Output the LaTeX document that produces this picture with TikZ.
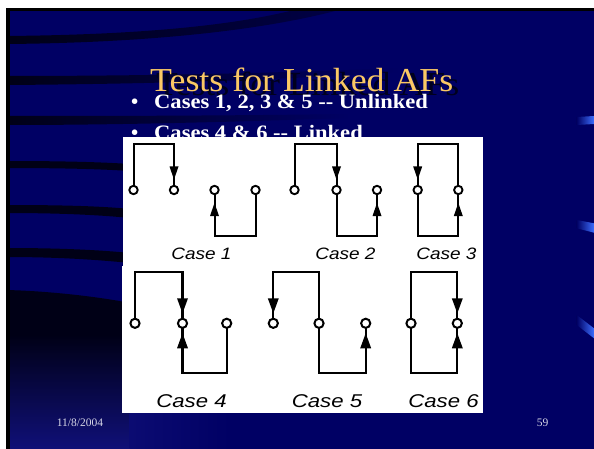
\documentclass[tikz,border=0pt]{standalone}
\usepackage{fontspec}
\usepackage{graphicx}
\usetikzlibrary{calc}
\newfontfamily\tfserif{Liberation Serif}
\newfontfamily\tfsans{Liberation Sans}
\definecolor{navy}{RGB}{0,0,100}
\definecolor{stripe}{RGB}{0,0,22}
\definecolor{deepblue}{RGB}{16,16,120}
\definecolor{barblue}{RGB}{60,110,255}
\definecolor{titlecol}{RGB}{250,200,100}
\definecolor{shadowcol}{RGB}{0,0,30}
\definecolor{footcol}{RGB}{215,215,230}
\newcommand\ArrDn[4]{\fill[black] ($(#1)+(0,-#2)$) -- ($(#1)+(-#4,-#2-#3)$) -- ($(#1)+(#4,-#2-#3)$) -- cycle;}
\newcommand\ArrUp[4]{\fill[black] ($(#1)+(0,#2)$) -- ($(#1)+(-#4,#2+#3)$) -- ($(#1)+(#4,#2+#3)$) -- cycle;}
\begin{document}
\begin{tikzpicture}[x=1pt,y=-1pt,
  af/.style={circle, draw=black, fill=white, line width=1.9pt, minimum size=8.4pt, inner sep=0pt, outer sep=0pt},
  afl/.style={af, line width=2pt, minimum size=9.2pt},
  wire/.style={line width=2pt, draw=black},
  wirel/.style={line width=2.1pt, draw=black},
  caseup/.style={font=\tfsans\itshape\fontsize{16.5}{18}\selectfont, anchor=base, inner sep=0pt},
  caselo/.style={font=\tfsans\itshape\fontsize{18.5}{20}\selectfont, anchor=base, inner sep=0pt},
  bullettext/.style={font=\tfserif\bfseries\fontsize{20.5}{24}\selectfont, text=white, anchor=base west, inner sep=0pt},
  foot/.style={font=\tfserif\fontsize{11.5}{13}\selectfont, text=footcol, anchor=base west, inner sep=0pt}
]
\useasboundingbox (0,0) rectangle (594,449);
% background
\fill[white] (0,0) rectangle (594,449);
\fill[navy] (6,8) rectangle (594,449);
% stripes
\shade[left color=stripe, right color=stripe!40!navy] (6,36) .. controls (120,35) and (220,28) .. (290,11) -- (335,11) .. controls (250,33) and (130,43) .. (6,44) -- cycle;
\shade[left color=stripe, right color=navy] (6,76) .. controls (150,76) and (280,73) .. (400,68) -- (400,72) .. controls (280,80) and (150,84) .. (6,85) -- cycle;
\shade[left color=stripe, right color=navy] (6,116) .. controls (100,116) and (200,116) .. (350,114) -- (350,118) .. controls (200,123) and (100,125) .. (6,125) -- cycle;
\fill[stripe] (6,161) .. controls (60,161) and (100,162) .. (130,164) -- (130,171) .. controls (100,169) and (60,168) .. (6,168) -- cycle;
\fill[stripe] (6,205) .. controls (60,205) and (100,206) .. (130,209) -- (130,218) .. controls (100,215) and (60,213) .. (6,213) -- cycle;
\fill[stripe] (6,248) .. controls (60,248) and (100,250) .. (130,253) -- (130,263) .. controls (100,260) and (60,257) .. (6,257) -- cycle;
\fill[stripe] (6,290) .. controls (50,291) and (100,297) .. (130,303) -- (130,335) -- (6,335) -- cycle;
\shade[top color=stripe, bottom color=deepblue] (6,334.5) rectangle (130,449);
\shade[left color=deepblue!70!navy, right color=navy] (129.5,413) rectangle (230,449);
% blue bars at right edge
\shade[left color=navy, right color=barblue] (576.7,117) -- (594,116) -- (594,124) -- (576.7,125) -- cycle;
\shade[left color=navy, right color=barblue] (576.7,220) -- (594,223.3) -- (594,232.7) -- (576.7,228.3) -- cycle;
\shade[left color=navy, right color=barblue] (576.7,315) -- (594,328.3) -- (594,338.3) -- (576.7,325) -- cycle;
% borders
\fill[black] (6,8) rectangle (594,11);
\fill[black] (6,8) rectangle (10,449);
% title
\node[font=\tfserif\fontsize{33.5}{40}\selectfont, text=shadowcol, anchor=base west, inner sep=0pt] (titleshadow) at (156,95.7) {\scalebox{1.07}[1]{Tests for Linked AFs}};
\node[font=\tfserif\fontsize{33.5}{40}\selectfont, text=titlecol, anchor=base west, inner sep=0pt] (title) at (150,91.7) {\scalebox{1.07}[1]{Tests for Linked AFs}};
% bullets
\node[bullettext] (b1dot) at (131,108.3) {•};
\node[bullettext] (b1) at (154,108.3) {\scalebox{1.1}[1]{Cases 1, 2, 3 \& 5 -- Unlinked}};
\node[bullettext] (b2dot) at (131,140) {•};
\node[bullettext] (b2) at (154,140) {\scalebox{1.1}[1]{Cases 4 \& 6 -- Linked}};
% panels
\fill[white] (122.5,137.5) rectangle (482.5,266);
\fill[white] (122,266) rectangle (483,413);
% reference coordinates
\coordinate (utop) at (0,144);
\coordinate (ubot) at (0,235.5);
\coordinate (ltop) at (0,271.7);
\coordinate (lbot) at (0,373.3);
% upper circles
\node[af] (a1) at (133.5,190) {};
\node[af] (a2) at (174,190) {};
\node[af] (a3) at (214.5,190) {};
\node[af] (a4) at (255.5,190) {};
\node[af] (b1c) at (294.5,190) {};
\node[af] (b2c) at (336.5,190) {};
\node[af] (b3c) at (377,190) {};
\node[af] (c1) at (417.7,190) {};
\node[af] (c2) at (458.3,190) {};
% upper wires
\draw[wire] (a1) -- (a1|-utop) -| (a2);
\draw[wire] (a3) -- (a3|-ubot) -| (a4);
\draw[wire] (b1c) -- (b1c|-utop) -| (b2c);
\draw[wire] (b2c) -- (b2c|-ubot) -| (b3c);
\draw[wire] (c2) -- (c2|-utop) -| (c1);
\draw[wire] (c1) -- (c1|-ubot) -| (c2);
\ArrDn{a2}{10.5}{13}{4.5}
\ArrUp{a3}{13}{13}{4.5}
\ArrDn{b2c}{10.5}{13}{4.5}
\ArrUp{b3c}{13}{13}{4.5}
\ArrDn{c1}{10.5}{13}{4.5}
\ArrUp{c2}{13}{13}{4.5}
% upper labels
\node[caseup] (l1) at (201.5,259) {\scalebox{1.15}[1]{Case 1}};
\node[caseup] (l2) at (345.5,259) {\scalebox{1.15}[1]{Case 2}};
\node[caseup] (l3) at (446.5,259) {\scalebox{1.15}[1]{Case 3}};
% lower circles
\node[afl] (d1) at (135,323.3) {};
\node[afl] (d2) at (182.5,323.3) {};
\node[afl] (d3) at (226.7,323.3) {};
\node[afl] (e1) at (273.3,323.3) {};
\node[afl] (e2) at (319,323.3) {};
\node[afl] (e3) at (365.7,323.3) {};
\node[afl] (f1) at (411,323.3) {};
\node[afl] (f2) at (457.3,323.3) {};
% lower wires
\draw[wirel] (d1) -- (d1|-ltop) -| (d2);
\draw[wirel] (d2) -- (d2|-lbot) -| (d3);
\draw[wirel] (e2) -- (e2|-ltop) -| (e1);
\draw[wirel] (e2) -- (e2|-lbot) -| (e3);
\draw[wirel] (f1) -- (f1|-ltop) -| (f2);
\draw[wirel] (f1) -- (f1|-lbot) -| (f2);
\ArrDn{d2}{10}{15}{5.5}
\ArrUp{d2}{10}{15}{5.5}
\ArrDn{e1}{10}{15}{5.5}
\ArrUp{e3}{10}{15}{5.5}
\ArrDn{f2}{10}{15}{5.5}
\ArrUp{f2}{10}{15}{5.5}
% lower labels
\node[caselo] (l4) at (191.5,407) {\scalebox{1.2}[1]{Case 4}};
\node[caselo] (l5) at (327,407) {\scalebox{1.2}[1]{Case 5}};
\node[caselo] (l6) at (443.5,407) {\scalebox{1.2}[1]{Case 6}};
% footer
\node[foot] (date) at (56.7,426.7) {11/8/2004};
\node[foot] (page) at (536.7,426.7) {59};
\end{tikzpicture}
\end{document}
